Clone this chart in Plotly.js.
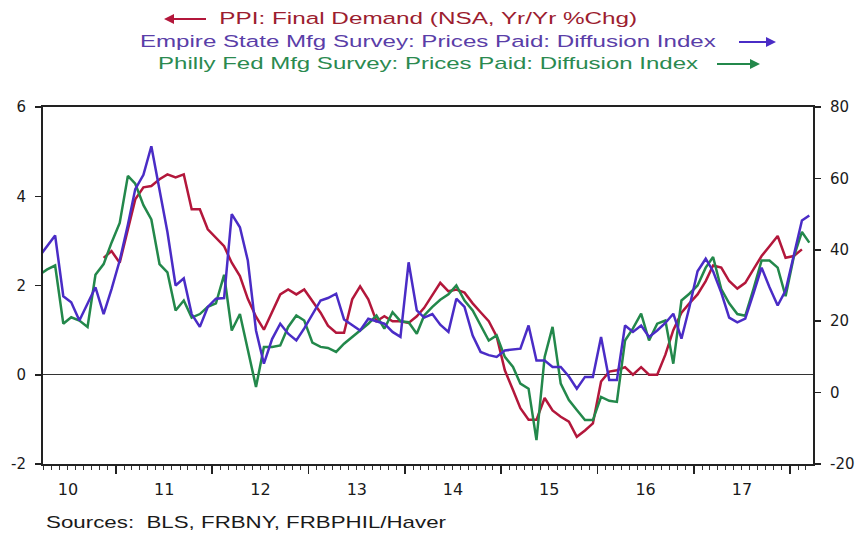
<!DOCTYPE html>
<html><head><meta charset="utf-8">
<script src="https://cdn.plot.ly/plotly-3.0.1.min.js"></script>
<style>html,body{margin:0;padding:0;background:#fff;}#chart{width:856px;height:535px;}</style>
</head><body><div id="chart"></div>
<script>
// Monthly observations, Mar 2010 .. Mar 2018
const firstYear = 2010, firstMonth = 3, monthCount = 97;

// PPI: Final Demand (NSA, Yr/Yr %Chg) - left axis
const ppi = [
  null, null, null, null, null, null, null, null, 2.62, 2.77,
  2.51, 3.26, 3.93, 4.20, 4.23, 4.38, 4.49, 4.42, 4.49, 3.71, 3.71, 3.26,
  3.07, 2.88, 2.51, 2.21, 1.70, 1.30, 1.01, 1.40, 1.80, 1.91, 1.80, 1.91,
  1.65, 1.39, 1.10, 0.94, 0.94, 1.69, 1.98, 1.69, 1.20, 1.31, 1.20, 1.20,
  1.16, 1.31, 1.50, 1.80, 2.06, 1.87, 1.91, 1.84, 1.60, 1.40, 1.20, 0.86,
  0.10, -0.34, -0.75, -1.01, -1.01, -0.52, -0.80, -0.94, -1.05, -1.39, -1.25, -1.09,
  -0.15, 0.07, 0.10, 0.17, 0.00, 0.17, 0.00, 0.00, 0.45, 1.00, 1.39, 1.60,
  1.80, 2.10, 2.45, 2.40, 2.10, 1.93, 2.06, 2.36, 2.66, 2.88, 3.11, 2.62,
  2.66, 2.81, null
];

// Empire State Mfg Survey: Prices Paid: Diffusion Index - right axis
const empire = [
  38, 41, 44, 27, 25.3, 20.2, 25, 29.5, 22, 29,
  37, 47, 57, 61, 69, 56.5, 45, 30, 32, 22, 18.4, 24,
  26.3, 26.5, 50, 46.3, 37, 17.4, 8.1, 15, 19.3, 16.5, 14.6, 18,
  22, 25.8, 26.5, 27.7, 20.5, 19, 17.4, 20.7, 20, 19.3, 17, 15.6,
  36.5, 23, 21, 22, 19, 17, 26.3, 24, 16, 11.4, 10.5, 10,
  11.8, 12, 12.3, 18.8, 9, 9, 7.2, 7.2, 4.5, 1.1, 4.4, 4.4,
  15.6, 3.5, 3.5, 18.8, 17, 18.8, 15.6, 17.4, 19.5, 22.1, 15.1, 23.9,
  34, 37.5, 34, 28, 21, 19.7, 20.7, 27.7, 35, 29.5, 24.4, 28.6,
  38, 48.2, 49.6
];

// Philly Fed Mfg Survey: Prices Paid: Diffusion Index - right axis
const philly = [
  33, 34.5, 35.6, 19.3, 21.1, 20.2, 18.4, 33, 36, 42,
  47.5, 60.7, 58.5, 52.5, 48.5, 36, 33.7, 23, 25.8, 21, 22, 24,
  25, 33, 17.4, 22, 12, 1.6, 12.8, 12.8, 13.2, 18.4, 21.6, 20.2,
  14, 12.8, 12.5, 11.4, 13.7, 15.5, 17.4, 19.3, 21.6, 17.9, 22.5, 20,
  19.7, 16.5, 21.6, 24, 26, 27.5, 30, 25.8, 23, 19, 14.6, 16,
  10, 7.2, 2.5, 1.1, -13.3, 10, 18.4, 2.5, -2.1, -4.9, -7.7, -7.7,
  -1.2, -2.3, -2.6, 14.6, 18, 22.1, 14.6, 19.3, 20.2, 8.1, 25.8, 27.7,
  30, 35, 38, 29, 25, 22, 21.5, 29, 37, 37, 35, 27,
  38, 45, 42
];

const leftTicks = [-2, 0, 2, 4, 6];
const rightTicks = [-20, 0, 20, 40, 60, 80];
const seriesNames = [
  'PPI: Final Demand (NSA, Yr/Yr %Chg)',
  'Empire State Mfg Survey: Prices Paid: Diffusion Index',
  'Philly Fed Mfg Survey: Prices Paid: Diffusion Index'
];
const sourceText = 'Sources:  BLS, FRBNY, FRBPHIL/Haver';

const pad = n => (n < 10 ? '0' : '') + n;
const months = [];
for (let i = 0; i < monthCount; i++) {
  const t = (firstMonth - 1) + i;
  months.push((firstYear + Math.floor(t / 12)) + '-' + pad(t % 12 + 1) + '-15');
}

const RED = '#b3173b', BLUE = '#4a2cc6', GREEN = '#23884b';
const RED_T = '#9c1d2f', BLUE_T = '#5a3ea8', GREEN_T = '#2b8a50';

const traces = [
  {x: months, y: philly, yaxis: 'y2', type: 'scatter', mode: 'lines', name: seriesNames[2],
   line: {color: GREEN, width: 2.5}, connectgaps: false, hoverinfo: 'skip'},
  {x: months, y: empire, yaxis: 'y2', type: 'scatter', mode: 'lines', name: seriesNames[1],
   line: {color: BLUE, width: 2.5}, connectgaps: false, hoverinfo: 'skip'},
  {x: months, y: ppi, yaxis: 'y', type: 'scatter', mode: 'lines', name: seriesNames[0],
   line: {color: RED, width: 2.5}, connectgaps: false, hoverinfo: 'skip'}
];

// plot area in pixels: x 43..813, y 107..464
const L = 43, R = 813, T = 107, B = 464;
const px = X => (X - L) / (R - L);
const py = Y => (B - Y) / (B - T);

const titleFont = {family: 'Liberation Sans, Arial, sans-serif', size: 17};
const annotations = [
  {text: seriesNames[0], x: px(428), y: py(18), xref: 'paper', yref: 'paper', showarrow: false,
   xanchor: 'center', yanchor: 'middle', font: Object.assign({color: RED_T}, titleFont)},
  {text: seriesNames[1], x: px(428), y: py(41), xref: 'paper', yref: 'paper', showarrow: false,
   xanchor: 'center', yanchor: 'middle', font: Object.assign({color: BLUE_T}, titleFont)},
  {text: seriesNames[2], x: px(428), y: py(63), xref: 'paper', yref: 'paper', showarrow: false,
   xanchor: 'center', yanchor: 'middle', font: Object.assign({color: GREEN_T}, titleFont)},
  {text: ' ', x: px(164), y: py(19), xref: 'paper', yref: 'paper', showarrow: true, ax: 46, ay: 0,
   arrowhead: 2, arrowsize: 1, arrowwidth: 2, arrowcolor: RED, standoff: 0, startstandoff: 0},
  {text: ' ', x: px(776), y: py(42), xref: 'paper', yref: 'paper', showarrow: true, ax: -41, ay: 0,
   arrowhead: 2, arrowsize: 1, arrowwidth: 2, arrowcolor: BLUE, standoff: 0, startstandoff: 0},
  {text: ' ', x: px(760), y: py(64), xref: 'paper', yref: 'paper', showarrow: true, ax: -47, ay: 0,
   arrowhead: 2, arrowsize: 1, arrowwidth: 2, arrowcolor: GREEN, standoff: 0, startstandoff: 0},
  {text: sourceText, x: px(44), y: py(522), xref: 'paper', yref: 'paper', showarrow: false,
   xanchor: 'left', yanchor: 'middle', font: {family: 'Liberation Sans, Arial, sans-serif', size: 16, color: '#1a1a1a'}}
];

// widths (px) of the reference's horizontally stretched text lines
const textWidths = {0: {w: 418, anchor: 'center'}, 1: {w: 577, anchor: 'center'},
                    2: {w: 541, anchor: 'center'}, 6: {w: 401, anchor: 'left'}};

const layout = {
  width: 856, height: 535,
  margin: {l: L, r: 856 - R, t: T, b: 535 - B, pad: 0},
  paper_bgcolor: '#ffffff', plot_bgcolor: '#ffffff',
  showlegend: false,
  font: {family: 'DejaVu Sans, sans-serif', size: 15, color: '#1a1a1a'},
  xaxis: {
    type: 'date', range: ['2010-03-30', '2018-03-29'],
    tick0: '2010-01-01', dtick: 'M12', tickformat: '%y', ticklabelmode: 'period',
    ticks: 'outside', ticklen: 8, tickwidth: 1.5, tickcolor: '#222',
    showline: true, linewidth: 2, linecolor: '#222', mirror: true,
    showgrid: false, zeroline: false, tickfont: {size: 16, color: '#1a1a1a'},
    ticklabelstandoff: 2,
    minor: {dtick: 'M1', tick0: '2010-01-01', ticks: 'outside', ticklen: 4, tickwidth: 1, tickcolor: '#333', showgrid: false}
  },
  yaxis: {
    range: [-2, 6], tickmode: 'array', tickvals: leftTicks, ticktext: leftTicks.map(String),
    ticks: 'outside', ticklen: 6, tickwidth: 1.5, tickcolor: '#222',
    showline: true, linewidth: 2, linecolor: '#222', showgrid: false,
    zeroline: true, zerolinecolor: '#333', zerolinewidth: 1,
    tickfont: {size: 15, color: '#1a1a1a'}, ticklabelstandoff: 6
  },
  yaxis2: {
    range: [-20, 80], tickmode: 'array', tickvals: rightTicks, ticktext: rightTicks.map(String),
    overlaying: 'y', side: 'right',
    ticks: 'outside', ticklen: 6, tickwidth: 1.5, tickcolor: '#222',
    showline: true, linewidth: 2, linecolor: '#222', showgrid: false, zeroline: false,
    tickfont: {size: 15, color: '#1a1a1a'}, ticklabelstandoff: 6
  },
  annotations: annotations
};

Plotly.newPlot('chart', traces, layout, {displayModeBar: false, staticPlot: true}).then(gd => {
  gd.querySelectorAll('.annotation').forEach(g => {
    const spec = textWidths[+g.getAttribute('data-index')];
    if (!spec) return;
    const t = g.querySelector('text.annotation-text');
    if (!t) return;
    const bb = t.getBBox();
    if (!bb.width) return;
    const s = spec.w / bb.width;
    const cx = spec.anchor === 'left' ? bb.x : bb.x + bb.width / 2;
    t.setAttribute('transform', 'translate(' + cx + ',0) scale(' + s + ',1) translate(' + (-cx) + ',0)');
  });
});
</script>
</body></html>
